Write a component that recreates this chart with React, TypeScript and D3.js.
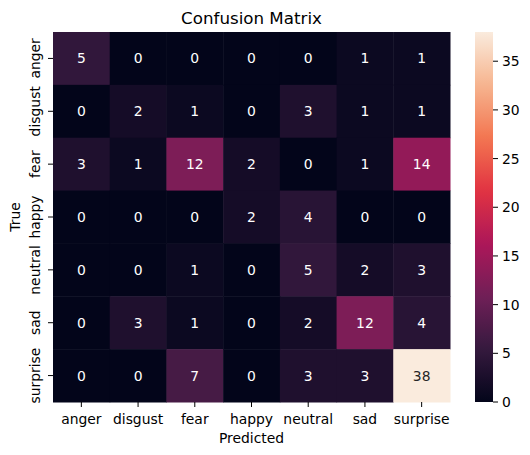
import * as d3 from 'd3'

const labels = ['anger', 'disgust', 'fear', 'happy', 'neutral', 'sad', 'surprise']

const matrix = [
  [5, 0, 0, 0, 0, 1, 1],
  [0, 2, 1, 0, 3, 1, 1],
  [3, 1, 12, 2, 0, 1, 14],
  [0, 0, 0, 2, 4, 0, 0],
  [0, 0, 1, 0, 5, 2, 3],
  [0, 3, 1, 0, 2, 12, 4],
  [0, 0, 7, 0, 3, 3, 38],
]

const colorbarTicks = [0, 5, 10, 15, 20, 25, 30, 35]

// seaborn "rocket" sampled at 0, 1/7 ... 1
const rocketStops = ['#03051a', '#35193e', '#701f57', '#ad1759', '#e13342', '#f37651', '#f6b48f', '#faebdd']

const W = 530
const H = 455
const left = 53
const right = 450
const top = 32
const bottom = 402
const cbLeft = 475
const cbRight = 493
const font = 'DejaVu Sans, sans-serif'
const fs = 13.9

export default function App() {
  const rocket = d3.piecewise(d3.interpolateRgb, rocketStops)
  const vmax = d3.max(matrix.flat()) || 1
  const color = d3.scaleSequential(rocket).domain([0, vmax])

  const x = d3.scaleBand().domain(labels).range([left, right])
  const y = d3.scaleBand().domain(labels).range([top, bottom])
  const cbY = d3.scaleLinear().domain([0, vmax]).range([bottom, top])

  const textColor = (v: number) => {
    const c = d3.rgb(color(v))
    const lin = (u: number) => {
      u /= 255
      return u <= 0.03928 ? u / 12.92 : Math.pow((u + 0.055) / 1.055, 2.4)
    }
    const lum = 0.2126 * lin(c.r) + 0.7152 * lin(c.g) + 0.0722 * lin(c.b)
    return lum > 0.408 ? '#262626' : '#ffffff'
  }

  const gradStops = d3.range(0, 1.0001, 0.02)

  return (
    <div style={{ position: 'fixed', left: 0, top: 0 }}>
      <svg width={W} height={H} style={{ display: 'block', background: '#fff' }} fontFamily={font}>
        <defs>
          <linearGradient id="cb" x1="0" y1="1" x2="0" y2="0">
            {gradStops.map(t => (
              <stop key={t} offset={t} stopColor={rocket(t)} />
            ))}
          </linearGradient>
        </defs>

        <text x={(left + right) / 2} y={24} textAnchor="middle" fontSize={16.7}>Confusion Matrix</text>

        {matrix.map((row, i) =>
          row.map((v, j) => (
            <g key={`${i}-${j}`}>
              <rect
                x={x(labels[j])}
                y={y(labels[i])}
                width={x.bandwidth() + 0.5}
                height={y.bandwidth() + 0.5}
                fill={color(v)}
              />
              <text
                x={(x(labels[j]) || 0) + x.bandwidth() / 2}
                y={(y(labels[i]) || 0) + y.bandwidth() / 2}
                textAnchor="middle"
                dominantBaseline="central"
                fontSize={fs}
                fill={textColor(v)}
              >
                {v}
              </text>
            </g>
          ))
        )}

        {/* x axis */}
        {labels.map(l => {
          const cx = (x(l) || 0) + x.bandwidth() / 2
          return (
            <g key={'x' + l}>
              <line x1={cx} x2={cx} y1={bottom} y2={bottom + 5} stroke="#000" strokeWidth={1} />
              <text x={cx} y={424} textAnchor="middle" fontSize={fs}>{l}</text>
            </g>
          )
        })}
        <text x={(left + right) / 2} y={442.5} textAnchor="middle" fontSize={fs}>Predicted</text>

        {/* y axis */}
        {labels.map(l => {
          const cy = (y(l) || 0) + y.bandwidth() / 2
          return (
            <g key={'y' + l}>
              <line x1={left - 5} x2={left} y1={cy} y2={cy} stroke="#000" strokeWidth={1} />
              <text transform={`translate(40,${cy}) rotate(-90)`} textAnchor="middle" fontSize={fs}>{l}</text>
            </g>
          )
        })}
        <text transform={`translate(20,${(top + bottom) / 2}) rotate(-90)`} textAnchor="middle" fontSize={fs}>True</text>

        {/* colorbar */}
        <rect x={cbLeft} y={top} width={cbRight - cbLeft} height={bottom - top} fill="url(#cb)" />
        {colorbarTicks.map(t => (
          <g key={'cb' + t}>
            <line x1={cbRight} x2={cbRight + 5} y1={cbY(t)} y2={cbY(t)} stroke="#000" strokeWidth={1} />
            <text x={cbRight + 9} y={cbY(t)} dominantBaseline="central" fontSize={fs}>{t}</text>
          </g>
        ))}
      </svg>
    </div>
  )
}
